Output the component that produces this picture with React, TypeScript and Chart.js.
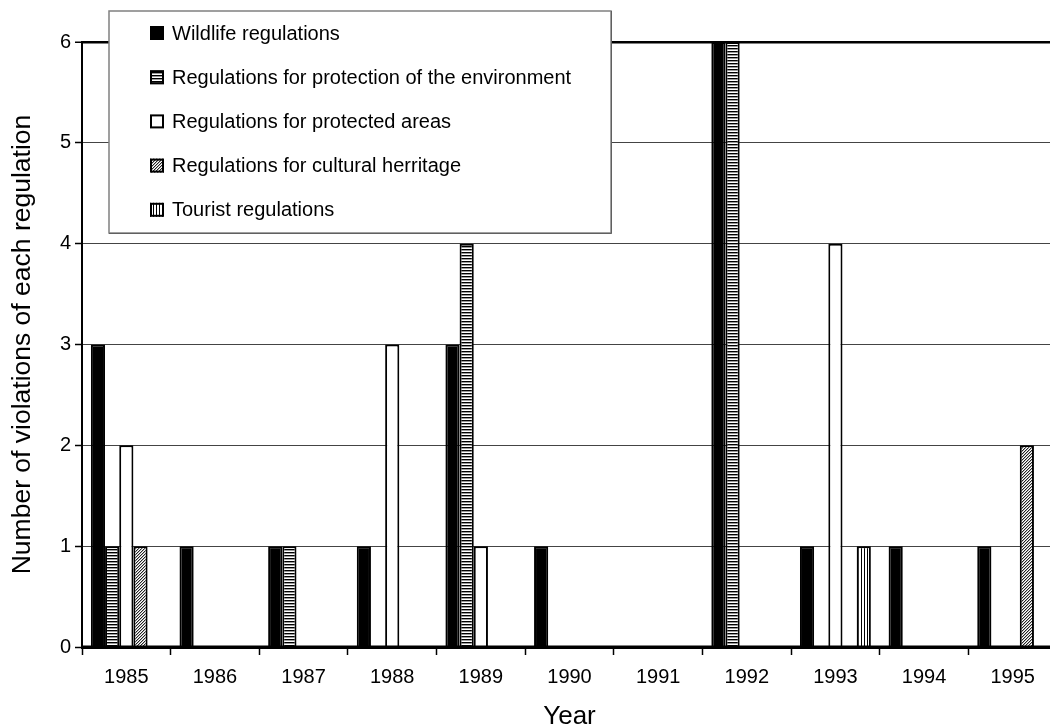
import { useEffect, useRef } from "react";
import { Chart, registerables } from "chart.js";

Chart.register(...registerables);

const years = ["1985", "1986", "1987", "1988", "1989", "1990", "1991", "1992", "1993", "1994", "1995"];

const wildlife = [3, 1, 1, 1, 3, 1, 0, 6, 1, 1, 1];
const environment = [1, 0, 1, 0, 4, 0, 0, 6, 0, 0, 0];
const protectedAreas = [2, 0, 0, 3, 1, 0, 0, 0, 4, 0, 0];
const culturalHeritage = [1, 0, 0, 0, 0, 0, 0, 0, 0, 0, 2];
const tourist = [0, 0, 0, 0, 0, 0, 0, 0, 1, 0, 0];

const seriesLabels = [
  "Wildlife regulations",
  "Regulations for protection of the environment",
  "Regulations for protected areas",
  "Regulations for cultural herritage",
  "Tourist regulations",
];

const yTicks = [0, 1, 2, 3, 4, 5, 6];

const FONT = "'Liberation Sans', Arial, sans-serif";

type Fill = "solid" | "hstripes" | "empty" | "diagonal" | "vstripes";

// Small repeating tiles used as monochrome bar fills
function makeFill(kind: Fill): string | CanvasPattern {
  if (kind === "solid") return "#000000";
  if (kind === "empty") return "#ffffff";
  const tile = document.createElement("canvas");
  const size = 3;
  tile.width = size;
  tile.height = size;
  const t = tile.getContext("2d")!;
  t.fillStyle = "#ffffff";
  t.fillRect(0, 0, size, size);
  t.fillStyle = "#000000";
  if (kind === "hstripes") {
    t.fillRect(0, 0, size, 1);
    t.fillStyle = "#9a9a9a";
    t.fillRect(0, 1, size, 1);
  } else if (kind === "vstripes") {
    t.fillRect(0, 0, 1, size);
  } else if (kind === "diagonal") {
    t.fillStyle = "#222222";
    t.fillRect(2, 0, 1, 1);
    t.fillRect(1, 1, 1, 1);
    t.fillRect(0, 2, 1, 1);
    t.fillStyle = "#b0b0b0";
    t.fillRect(0, 0, 1, 1);
    t.fillRect(2, 1, 1, 1);
    t.fillRect(1, 2, 1, 1);
  }
  const ctx = document.createElement("canvas").getContext("2d")!;
  return ctx.createPattern(tile, "repeat")!;
}

// Boxed key drawn over the upper-left part of the plot
const boxedLegend = {
  id: "boxedLegend",
  afterDatasetsDraw(chart: any) {
    const { ctx, chartArea, scales } = chart;
    // restate the baseline on top of the bars
    const y0 = scales.y.getPixelForValue(0);
    ctx.save();
    ctx.strokeStyle = "#000";
    ctx.lineWidth = 3;
    ctx.beginPath();
    ctx.moveTo(chartArea.left, y0);
    ctx.lineTo(chartArea.right, y0);
    ctx.stroke();
    ctx.restore();
  },
  afterDraw(chart: any) {
    const { ctx } = chart;
    const box = { x: 109, y: 11, w: 502, h: 222 };
    ctx.save();
    ctx.fillStyle = "#ffffff";
    ctx.fillRect(box.x, box.y, box.w, box.h);
    ctx.strokeStyle = "#808080";
    ctx.lineWidth = 1.5;
    ctx.strokeRect(box.x, box.y, box.w, box.h);
    ctx.strokeStyle = "#606060";
    ctx.lineWidth = 1;
    ctx.beginPath();
    ctx.moveTo(box.x + box.w + 0.5, box.y);
    ctx.lineTo(box.x + box.w + 0.5, box.y + box.h + 0.5);
    ctx.lineTo(box.x, box.y + box.h + 0.5);
    ctx.stroke();

    ctx.font = `20px ${FONT}`;
    ctx.textBaseline = "middle";
    ctx.textAlign = "left";
    chart.data.datasets.forEach((ds: any, i: number) => {
      const cy = 33 + i * 44.2;
      const sx = 150;
      const sz = 14;
      ctx.fillStyle = ds.backgroundColor;
      ctx.fillRect(sx, cy - sz / 2, sz, sz);
      ctx.strokeStyle = "#000";
      ctx.lineWidth = 2;
      ctx.strokeRect(sx + 1, cy - sz / 2 + 1, sz - 2, sz - 2);
      ctx.fillStyle = "#000";
      ctx.fillText(ds.label, 172, cy + 1);
    });
    ctx.restore();
  },
};

export default function App() {
  const canvasRef = useRef<HTMLCanvasElement | null>(null);

  useEffect(() => {
    if (!canvasRef.current) return;
    const fills: Fill[] = ["solid", "hstripes", "empty", "diagonal", "vstripes"];
    const values = [wildlife, environment, protectedAreas, culturalHeritage, tourist];

    const chart = new Chart(canvasRef.current, {
      type: "bar",
      data: {
        labels: years,
        datasets: values.map((data, i) => ({
          label: seriesLabels[i],
          data,
          backgroundColor: makeFill(fills[i]) as any,
          borderColor: "#000000",
          borderWidth: 2,
          categoryPercentage: 0.8,
          barPercentage: 1,
        })),
      },
      options: {
        animation: false,
        responsive: true,
        maintainAspectRatio: false,
        layout: { padding: { top: 42, right: 3, bottom: 0, left: 0 } },
        plugins: {
          legend: { display: false },
          tooltip: { enabled: false },
        },
        scales: {
          x: {
            grid: {
              offset: true,
              drawOnChartArea: false,
              drawTicks: true,
              tickLength: 8,
              tickColor: "#000",
              tickWidth: 1.5,
            },
            border: { display: true, color: "#000", width: 3 },
            ticks: {
              color: "#000",
              font: { family: FONT, size: 20 },
              padding: 10,
              maxRotation: 0,
              autoSkip: false,
            },
            title: {
              display: true,
              text: "Year",
              color: "#000",
              font: { family: FONT, size: 26 },
              padding: { top: -4, bottom: -4 },
            },
            afterFit(scale: any) {
              scale.height = 81;
            },
          },
          y: {
            min: 0,
            max: 6,
            afterBuildTicks(scale: any) {
              scale.ticks = yTicks.map((v) => ({ value: v }));
            },
            grid: {
              color: (c: any) => (c.tick && c.tick.value === 6 ? "#000" : "#444"),
              lineWidth: (c: any) => (c.tick && c.tick.value === 6 ? 2.5 : 1),
              tickLength: 7,
              tickColor: "#000",
              tickWidth: 1.5,
            },
            border: { display: true, color: "#000", width: 2 },
            ticks: {
              color: "#000",
              font: { family: FONT, size: 20 },
              padding: 4,
            },
            title: {
              display: true,
              text: "Number of violations of each regulation",
              color: "#000",
              font: { family: FONT, size: 26.5 },
              padding: { top: 7, bottom: 0 },
            },
            afterFit(scale: any) {
              scale.width = 82;
            },
          },
        },
      },
      plugins: [boxedLegend],
    });

    return () => chart.destroy();
  }, []);

  return (
    <div
      style={{
        position: "fixed",
        left: 0,
        top: 0,
        width: 1050,
        height: 728,
        overflow: "hidden",
        background: "#fff",
      }}
    >
      <div style={{ position: "absolute", left: 0, top: 0, width: 1060, height: 728 }}>
        <canvas ref={canvasRef} />
      </div>
    </div>
  );
}
